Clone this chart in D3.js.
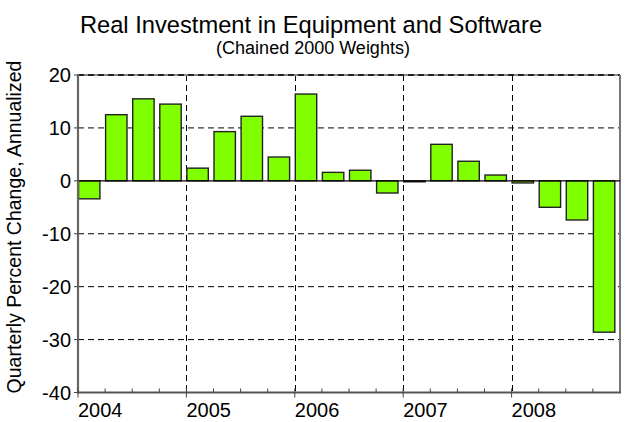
<!DOCTYPE html>
<html><head><meta charset="utf-8">
<script src="https://cdn.jsdelivr.net/npm/d3@7"></script>
<style>body{margin:0;background:#fff}svg{display:block}text{font-family:"Liberation Sans",Arial,sans-serif;fill:#000}</style>
</head><body><svg id="c" width="629" height="422"></svg>
<script>
const quarters = ["2004Q1","2004Q2","2004Q3","2004Q4","2005Q1","2005Q2","2005Q3","2005Q4","2006Q1","2006Q2","2006Q3","2006Q4","2007Q1","2007Q2","2007Q3","2007Q4","2008Q1","2008Q2","2008Q3","2008Q4"];
const values = [-3.4,12.5,15.5,14.5,2.4,9.3,12.2,4.5,16.4,1.6,2.0,-2.3,-0.1,6.9,3.7,1.1,-0.4,-5.0,-7.4,-28.6];
const yearLabels = ["2004","2005","2006","2007","2008"];
const yTicks = [20,10,0,-10,-20,-30,-40];
const title = "Real Investment in Equipment and Software";
const subtitle = "(Chained 2000 Weights)";
const yLabel = "Quarterly Percent Change, Annualized";

const svg = d3.select("#c");
const L=78,R=620,T=75,B=392.5;
const x = d3.scaleBand().domain(quarters).range([L,R]).paddingInner(0).paddingOuter(0);
const y = d3.scaleLinear().domain([-40,20]).range([B,T]);
const xYear = d3.scalePoint().domain(yearLabels).range([L, L+4*(R-L)/5]);

// gridlines
const g = svg.append("g");
g.selectAll(".hg").data(yTicks.filter(d=>d!==-40&&d!==0&&d!==20)).join("line")
 .attr("x1",L).attr("x2",R).attr("y1",d=>y(d)).attr("y2",d=>y(d))
 .attr("stroke","#000").attr("stroke-width",1).attr("stroke-dasharray","6,4");
g.selectAll(".vg").data(yearLabels.slice(1)).join("line")
 .attr("x1",d=>Math.round(xYear(d))+0.5).attr("x2",d=>Math.round(xYear(d))+0.5).attr("y1",T).attr("y2",B)
 .attr("stroke","#000").attr("stroke-width",1).attr("stroke-dasharray","6,4");
// top border
svg.append("line").attr("x1",L).attr("x2",R).attr("y1",y(20)).attr("y2",y(20)).attr("stroke","#888").attr("stroke-width",2);
svg.append("line").attr("x1",L).attr("x2",R).attr("y1",y(20)).attr("y2",y(20)).attr("stroke","#222").attr("stroke-width",2).attr("stroke-dasharray","6,4");
// right border
svg.append("line").attr("x1",R).attr("x2",R).attr("y1",T).attr("y2",B).attr("stroke","#777").attr("stroke-width",2);

// bars
svg.selectAll(".bar").data(values).join("rect")
 .attr("x",(d,i)=>x(quarters[i])+0.5)
 .attr("width",x.bandwidth()*0.79)
 .attr("y",d=>y(Math.max(0,d)))
 .attr("height",d=>Math.max(1,Math.abs(y(d)-y(0))))
 .attr("fill","#80ff00").attr("stroke","#222").attr("stroke-width",1.4);

// zero line
svg.append("line").attr("x1",L).attr("x2",R).attr("y1",y(0)).attr("y2",y(0)).attr("stroke","#000").attr("stroke-width",1.2);

// left axis
svg.append("line").attr("x1",L).attr("x2",L).attr("y1",T-1).attr("y2",B+1).attr("stroke","#666").attr("stroke-width",2.2);
svg.selectAll(".yt").data(yTicks).join("line").attr("x1",L-4).attr("x2",L).attr("y1",d=>y(d)).attr("y2",d=>y(d)).attr("stroke","#444").attr("stroke-width",1);
svg.selectAll(".yl").data(yTicks).join("text").attr("x",71).attr("y",d=>y(d)+7)
 .attr("text-anchor","end").attr("font-size",20).text(d=>d);

// bottom axis
svg.append("line").attr("x1",L).attr("x2",R+1).attr("y1",B).attr("y2",B).attr("stroke","#555").attr("stroke-width",1.8);
svg.selectAll(".qt").data(quarters.filter((q,i)=>i%4!==0)).join("line")
 .attr("x1",d=>x(d)).attr("x2",d=>x(d)).attr("y1",B-4).attr("y2",B).attr("stroke","#444").attr("stroke-width",1);
svg.selectAll(".yrt").data(yearLabels).join("line")
 .attr("x1",d=>xYear(d)).attr("x2",d=>xYear(d)).attr("y1",B-4).attr("y2",B+5).attr("stroke","#444").attr("stroke-width",1);
svg.selectAll(".xl").data(yearLabels).join("text").attr("x",d=>xYear(d)).attr("y",417)
 .attr("font-size",20).text(d=>d);

// titles
svg.append("text").attr("x",311).attr("y",33).attr("text-anchor","middle").attr("font-size",23.7).text(title);
svg.append("text").attr("x",313).attr("y",54).attr("text-anchor","middle").attr("font-size",18).text(subtitle);
svg.append("text").attr("transform","translate(21,227) rotate(-90)").attr("text-anchor","middle").attr("font-size",19.5).text(yLabel);
</script></body></html>
